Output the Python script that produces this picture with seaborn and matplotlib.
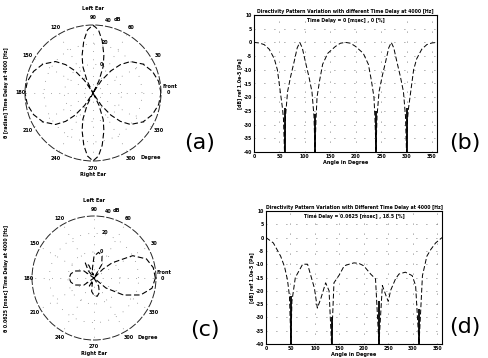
import numpy as np
import pandas as pd
import matplotlib
matplotlib.use("Agg")
import matplotlib.pyplot as plt
import seaborn as sns

sns.set_theme(style="white")
plt.rcParams['font.family'] = ['DejaVu Sans']

# ---------------- data ----------------
# polar pattern (a): normalised radius vs angle [deg]
theta_a = [0, 10, 20, 30, 40, 46, 51, 56, 60, 64, 69, 74, 80, 85, 90,
           95, 100, 106, 111, 116, 120, 124, 129, 134, 140, 150, 160, 170, 180,
           190, 200, 210, 220, 226, 231, 236, 240, 244, 249, 254, 260, 265, 270,
           275, 280, 286, 291, 296, 300, 304, 309, 314, 320, 330, 340, 350, 360]
r_a = [1.00, 0.98, 0.93, 0.85, 0.72, 0.58, 0.42, 0.22, 0.00, 0.20, 0.42, 0.58, 0.78, 0.93, 1.00,
       0.93, 0.78, 0.58, 0.42, 0.20, 0.00, 0.22, 0.42, 0.58, 0.72, 0.85, 0.93, 0.98, 1.00,
       0.98, 0.93, 0.85, 0.72, 0.58, 0.42, 0.22, 0.00, 0.20, 0.42, 0.58, 0.78, 0.93, 1.00,
       0.93, 0.78, 0.58, 0.42, 0.20, 0.00, 0.22, 0.42, 0.58, 0.72, 0.85, 0.93, 0.98, 1.00]

# polar pattern (c)
theta_c = [0, 10, 20, 30, 40, 45, 51, 60, 70, 80, 90, 100, 105, 112, 120, 128, 134,
           145, 160, 170, 180, 190, 200, 215, 231, 240, 250, 260, 270, 280, 290, 300,
           313, 320, 330, 340, 350, 360]
r_c = [0.99, 0.97, 0.90, 0.72, 0.38, 0.20, 0.00, 0.25, 0.38, 0.42, 0.35, 0.15, 0.05, 0.22, 0.28, 0.15, 0.00,
       0.20, 0.33, 0.38, 0.40, 0.38, 0.33, 0.20, 0.00, 0.15, 0.08, 0.22, 0.28, 0.30, 0.25, 0.15,
       0.00, 0.25, 0.55, 0.80, 0.95, 0.99]

# level vs angle (b), time delay 0
angle_b = [0, 10, 20, 30, 40, 46, 51, 56, 58, 60, 62, 66, 72, 79, 85, 90,
           95, 101, 108, 114, 118, 120, 122, 124, 129, 135, 145, 160, 170, 180,
           190, 200, 215, 225, 231, 236, 238, 240, 242, 246, 252, 259, 265, 270,
           275, 281, 288, 294, 298, 300, 302, 304, 309, 314, 320, 330, 340, 350, 360]
db_b = [0, -0.2, -0.8, -2.5, -6, -10, -17, -24, -28, -40, -27, -18, -12.5, -7, -2, 0,
        -2, -7, -12.5, -18, -27, -40, -28, -20, -14, -8, -4, -1.5, -0.3, 0,
        -0.3, -1.5, -4, -8, -14, -20, -28, -40, -27, -18, -12.5, -7, -2, 0,
        -2, -7, -12.5, -18, -27, -40, -28, -24, -17, -10, -6, -2.5, -0.8, -0.2, 0]
null_b = [60, 120, 240, 300]
null_top_b = [-24, -26, -25, -24]

# level vs angle (d), time delay 0.0625 ms
angle_d = [0, 15, 30, 38, 44, 48, 51, 53, 60, 75, 85, 99, 105, 112, 122, 129, 134,
           139, 150, 160, 170, 180, 190, 200, 214, 224, 231, 238, 245, 250, 255, 265,
           272, 285, 299, 306, 313, 320, 329, 337, 347, 360]
db_d = [0, -2, -7, -11, -16, -22, -40, -24, -15, -10, -10, -19, -26.5, -23, -17, -20, -40,
        -17, -14, -10.6, -10, -9.5, -9.7, -10.6, -13.7, -15.5, -40, -18, -21.6, -24, -19.8, -15.5,
        -13.7, -13, -14.3, -18, -40, -14.3, -7, -4.5, -2, 0]
null_d = [51, 134, 231, 313]
null_top_d = [-22, -30, -24, -27]

polar_ticks = [0, 30, 60, 90, 120, 150, 180, 210, 240, 270, 300, 330]
polar_labels = ['0', '30', '60', '90', '120', '150', '180', '210', '240', '270', '300', '330']
x_ticks = [0, 50, 100, 150, 200, 250, 300, 350]
y_ticks = [10, 5, 0, -5, -10, -15, -20, -25, -30, -35, -40]

# ---------------- figure ----------------
W, H = 488, 358
fig = plt.figure(figsize=(W / 100, H / 100), dpi=100)
fig.patch.set_facecolor('white')


def box(left, top, w, h):
    return [left / W, 1 - (top + h) / H, w / W, h / H]


TXT = dict(color='black', fontweight='bold')
DASH = (0, (5, 2.5))


def polar_panel(rect, theta, r, ylab, panel_letter, letter_xy, ear_r):
    ax = fig.add_axes(rect, projection='polar')
    ax.set_facecolor('white')
    ax.set_theta_zero_location('E')
    ax.set_ylim(0, 1)
    ax.set_xticks(np.deg2rad(polar_ticks))
    ax.set_xticklabels([])
    ax.set_yticks([0.42, 0.72])
    ax.set_yticklabels([])
    ax.grid(True, linestyle=(0, (1, 11)), linewidth=0.5, color='0.35')
    ax.spines['polar'].set_linestyle((0, (7, 3)))
    ax.spines['polar'].set_linewidth(0.7)
    ax.spines['polar'].set_color('0.15')
    sns.lineplot(x=np.deg2rad(theta), y=r, ax=ax, sort=False, color='black',
                 linewidth=0.8, linestyle=DASH)
    ax.set_xlabel('')
    ax.set_ylabel('')
    for t, lab in zip(polar_ticks, polar_labels):
        rr = 1.11 if t != 180 else 1.06
        ax.text(np.deg2rad(t), rr, lab, fontsize=3.5, ha='center', va='center',
                clip_on=False, **TXT)
    # radial labels
    ax.text(np.deg2rad(78), 1.09, '40', fontsize=3.4, ha='center', va='center', **TXT)
    ax.text(np.deg2rad(71.5), 1.14, 'dB', fontsize=3.6, ha='center', va='center', **TXT)
    ax.text(np.deg2rad(76.5), 0.76, '20', fontsize=3.4, ha='center', va='center', **TXT)
    ax.text(np.deg2rad(74), 0.44, '0', fontsize=3.4, ha='center', va='center', **TXT)
    # annotations
    ax.text(np.deg2rad(90), ear_r[0], 'Left Ear', fontsize=3.6, ha='center', va='center', **TXT)
    ax.text(np.deg2rad(270), ear_r[1], 'Right Ear', fontsize=3.6, ha='center', va='center', **TXT)
    ax.text(np.deg2rad(4.5), 1.13, 'Front', fontsize=3.6, ha='center', va='center', **TXT)
    ax.text(np.deg2rad(306), 1.18, 'Degree', fontsize=3.6, ha='left', va='center', **TXT)
    cy = rect[1] + rect[3] / 2
    fig.text(7 / W, cy, ylab, rotation=90, fontsize=3.3, ha='center', va='center', **TXT)
    fig.text(letter_xy[0] / W, 1 - letter_xy[1] / H, panel_letter, fontsize=16,
             ha='center', va='center', color='black')
    return ax


def cart_panel(rect, angle, db, nulls, tops, title, sub, panel_letter, letter_xy):
    ax = fig.add_axes(rect)
    ax.set_facecolor('white')
    sns.lineplot(x=angle, y=db, ax=ax, sort=False, color='black', linewidth=0.7,
                 linestyle=DASH)
    ax.vlines(nulls, -40, tops, color='black', linewidth=1.3)
    ax.set_xlim(0, 360)
    ax.set_ylim(-40, 10)
    ax.set_xticks(x_ticks)
    ax.set_yticks(y_ticks)
    ax.set_xticklabels([str(v) for v in x_ticks], fontsize=3.3, fontweight='bold')
    ax.set_yticklabels([str(v) for v in y_ticks], fontsize=3.3, fontweight='bold')
    ax.tick_params(direction='in', length=2, width=0.5, pad=1.2, colors='black')
    ax.grid(True, linestyle=(0, (1, 11)), linewidth=0.6, color='0.35')
    for s in ax.spines.values():
        s.set_color('black')
        s.set_linewidth(0.8)
    ax.set_title(title, fontsize=3.3, pad=1.5, **TXT)
    ax.text(0.5, 0.975, sub, transform=ax.transAxes, ha='center', va='top',
            fontsize=3.3, **TXT)
    ax.set_xlabel('Angle in Degree', fontsize=3.6, labelpad=0.8, **TXT)
    ax.set_ylabel('[dB] ref 1.0e-5 [Pa]', fontsize=3.3, labelpad=1.5, **TXT)
    fig.text(letter_xy[0] / W, 1 - letter_xy[1] / H, panel_letter, fontsize=16,
             ha='center', va='center', color='black')
    return ax


polar_panel(box(25, 25, 136, 136), theta_a, r_a,
            'θ [radian] Time Delay at 4000 [Hz]', '(a)', (200, 143), (1.24, 1.2))
cart_panel(box(254, 15, 183, 137), angle_b, db_b, null_b, null_top_b,
           'Directivity Pattern Variation with different Time Delay at 4000 [Hz]',
           'Time Delay = 0 [msec] , 0 [%]', '(b)', (465, 143))
polar_panel(box(32, 216, 124, 124), theta_c, r_c,
            'θ 0.0625 [msec] Time Delay at 4000 [Hz]', '(c)', (205, 330), (1.25, 1.21))
cart_panel(box(266, 211, 176, 133), angle_d, db_d, null_d, null_top_d,
           'Directivity Pattern Variation with Different Time Delay at 4000 [Hz]',
           'Time Delay = 0.0625 [msec] , 18.5 [%]', '(d)', (465, 327))

fig.savefig('out.png', dpi=100, facecolor='white')
